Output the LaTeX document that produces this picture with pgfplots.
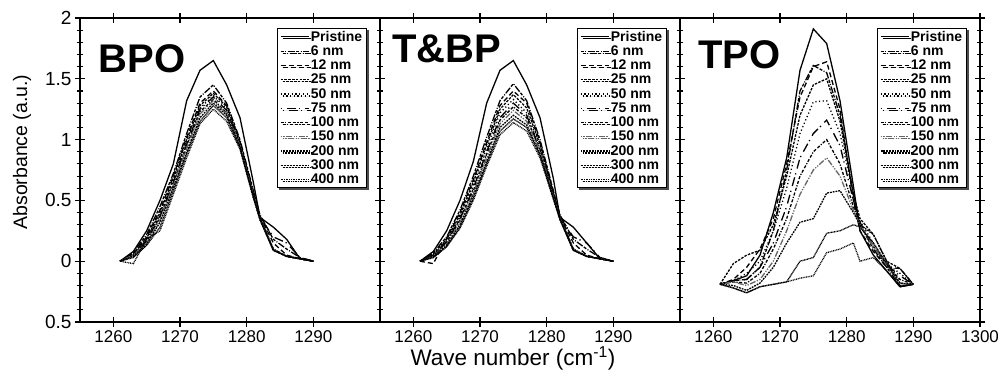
\documentclass[border=0pt]{standalone}
\usepackage{fontspec}
\setmainfont{Liberation Sans}
\usepackage{pgfplots}
\usepackage{pgfplotstable}
\pgfplotsset{compat=1.18}
\usetikzlibrary{shadows}

\pgfplotstableread{
wn p n6 n12 n25 n50 n75 n100 n150 n200 n300 n400
1261 0 0 0 0 0 0 0 0 0 0 0
1263 0.08 0.07 0.06 0.06 0.05 0.05 0.05 0.05 0.04 0.03 -0.02
1265 0.25 0.22 0.20 0.19 0.18 0.17 0.16 0.15 0.14 0.13 0.18
1267 0.50 0.45 0.42 0.40 0.38 0.37 0.36 0.34 0.32 0.28 0.25
1269 0.80 0.72 0.70 0.68 0.66 0.65 0.63 0.62 0.60 0.58 0.55
1271 1.32 1.05 1.02 1.00 0.98 0.96 0.95 0.93 0.90 0.88 0.85
1273 1.57 1.35 1.30 1.28 1.26 1.25 1.23 1.21 1.18 1.15 1.13
1275 1.65 1.45 1.40 1.38 1.36 1.35 1.33 1.32 1.30 1.28 1.25
1277 1.45 1.30 1.28 1.27 1.25 1.24 1.22 1.21 1.20 1.18 1.15
1279 1.18 1.00 0.98 0.98 0.97 0.96 0.95 0.95 0.94 0.93 0.92
1281 0.65 0.58 0.56 0.56 0.55 0.55 0.54 0.54 0.53 0.53 0.52
1282 0.36 0.38 0.37 0.37 0.36 0.36 0.35 0.35 0.35 0.34 0.34
1284 0.28 0.18 0.15 0.10 0.09 0.20 0.10 0.10 0.09 0.09 0.09
1286 0.18 0.10 0.05 0.04 0.04 0.15 0.04 0.04 0.04 0.04 0.04
1288 0.02 0.03 0.02 0.02 0.02 0.03 0.02 0.02 0.02 0.02 0.02
1290 0 0 0 0 0 0 0 0 0 0 0
}\bpo

\pgfplotstableread{
wn p n6 n12 n25 n50 n75 n100 n150 n200 n300 n400
1261 0 0 0 0 0 0 0 0 0 0 0
1263 0.08 0.07 -0.02 0.06 0.05 0.05 0.05 0.04 0.04 0.03 0.03
1265 0.25 0.20 0.19 0.18 0.17 0.16 0.15 0.14 0.13 0.12 0.12
1267 0.50 0.42 0.40 0.38 0.36 0.35 0.34 0.32 0.30 0.28 0.27
1269 0.82 0.70 0.67 0.65 0.62 0.60 0.58 0.56 0.54 0.52 0.50
1271 1.30 1.02 0.98 0.96 0.93 0.90 0.88 0.85 0.82 0.80 0.78
1273 1.57 1.32 1.28 1.25 1.22 1.18 1.16 1.13 1.10 1.07 1.04
1275 1.65 1.46 1.40 1.37 1.33 1.30 1.27 1.24 1.20 1.17 1.14
1277 1.45 1.32 1.30 1.26 1.22 1.20 1.18 1.15 1.12 1.10 1.07
1279 1.18 1.00 0.98 0.96 0.94 0.92 0.91 0.90 0.88 0.87 0.85
1281 0.68 0.58 0.57 0.56 0.55 0.55 0.54 0.53 0.52 0.52 0.51
1282 0.36 0.38 0.37 0.37 0.36 0.36 0.35 0.35 0.35 0.34 0.34
1284 0.28 0.18 0.15 0.10 0.09 0.20 0.10 0.10 0.09 0.09 0.09
1286 0.15 0.10 0.05 0.04 0.04 0.15 0.04 0.04 0.04 0.04 0.04
1288 0.02 0.03 0.02 0.02 0.02 0.03 0.02 0.02 0.02 0.02 0.02
1290 0 0 0 0 0 0 0 0 0 0 0
}\tbp

\pgfplotstableread{
wn p n6 n12 n25 n50 n75 n100 n150 n200 n300 n400
1261 -0.19 -0.19 -0.19 -0.19 -0.19 -0.19 -0.19 -0.19 -0.19 -0.19 -0.19
1263 -0.16 -0.16 -0.15 -0.02 -0.16 -0.16 -0.17 -0.17 -0.20 -0.22 -0.22
1265 -0.12 -0.15 -0.05 0.05 -0.10 -0.15 -0.18 -0.20 -0.24 -0.26 -0.26
1267 0.05 -0.05 0.10 0.09 0.00 -0.05 -0.10 -0.15 -0.18 -0.21 -0.21
1269 0.40 0.25 0.35 0.30 0.25 0.15 0.10 0.00 -0.05 -0.19 -0.19
1271 0.85 0.75 0.80 0.70 0.60 0.45 0.35 0.25 0.15 -0.17 -0.17
1273 1.57 1.40 1.35 1.20 1.05 0.85 0.70 0.55 0.32 0.00 -0.14
1275 1.91 1.61 1.60 1.45 1.31 1.05 0.90 0.75 0.35 0.03 -0.12
1277 1.79 1.55 1.64 1.50 1.32 1.16 1.00 0.85 0.56 0.23 0.07
1279 1.32 1.20 1.25 1.15 1.05 0.95 0.80 0.70 0.58 0.25 0.10
1281 0.62 0.55 0.50 0.55 0.55 0.50 0.45 0.42 0.40 0.30 0.15
1282 0.25 0.30 0.25 0.35 0.33 0.32 0.30 0.30 0.30 0.28 0.00
1284 0.05 0.10 0.08 0.22 0.15 0.12 0.12 0.12 0.22 0.15 0.03
1286 -0.08 -0.05 -0.05 0.00 -0.02 -0.03 -0.03 -0.03 0.00 -0.02 -0.08
1288 -0.21 -0.21 -0.06 -0.06 -0.10 -0.12 -0.15 -0.18 -0.18 -0.20 -0.21
1290 -0.19 -0.19 -0.19 -0.19 -0.19 -0.19 -0.19 -0.19 -0.19 -0.19 -0.19
}\tpo

\newcommand{\lf}{\fontsize{14bp}{17bp}\selectfont\bfseries}

\pgfplotsset{
  legend image code/.code={\draw[#1] (0bp,0bp) -- (28bp,0bp);},
  s0/.style={black, line width=1.3bp, solid},
  s1/.style={black, line width=1.3bp, dash pattern=on 3pt off 1.5pt on 1pt off 1.5pt on 7pt off 1.5pt},
  s2/.style={black, line width=1.3bp, dash pattern=on 5pt off 3pt},
  s3/.style={black, line width=1.3bp, dash pattern=on 2.5pt off 1.3pt},
  s4/.style={black, line width=1.3bp, dash pattern=on 1.2pt off 2.5pt},
  s5/.style={black, line width=1.3bp, dash pattern=on 1.2pt off 5pt on 9pt off 3pt},
  s6/.style={black, line width=1.3bp, dash pattern=on 3pt off 1.5pt on 1.2pt off 1.5pt on 3pt off 2pt},
  s7/.style={black!60, line width=1.3bp, dash pattern=on 1.2pt off 1.5pt on 1.2pt off 1.5pt on 6pt off 1.5pt},
  s8/.style={black, line width=1.3bp, dash pattern=on 1.8pt off 1pt},
  s9/.style={black, line width=1.3bp, dash pattern=on 0.9pt off 0.6pt},
  s10/.style={black, line width=1.3bp, dash pattern=on 0.9pt off 0.8pt},
  panel/.style={
    scale only axis, width=300bp, height=304bp,
    xmin=1255, xmax=1300, ymin=-0.5, ymax=2,
    axis line style={line width=1.5bp},
    ytick={-0.5,0,0.5,1,1.5,2},
    minor y tick num=4,
    ytick pos=both,
    xtick pos=both, xticklabel pos=lower,
    tick align=center,
    major tick length=10bp, minor tick length=6bp,
    every tick/.style={black, line width=1.1bp},
    xticklabel style={font=\fontsize{17bp}{17bp}\selectfont},
    yticklabel style={font=\fontsize{19bp}{19bp}\selectfont},
    legend cell align=left,
    legend style={at={(0.957,0.967)}, anchor=north east, draw=black, line width=0.8bp, fill=white,
      drop shadow={shadow xshift=2bp, shadow yshift=-2bp, fill=black!70, opacity=1},
      row sep=0bp, inner xsep=3bp, inner ysep=1bp,
      nodes={inner sep=1.5bp}},
    clip=false,
  },
}

\newcommand{\plotall}[1]{%
  \addplot[s0] table[x=wn,y=p]{#1};
  \addplot[s1] table[x=wn,y=n6]{#1};
  \addplot[s2] table[x=wn,y=n12]{#1};
  \addplot[s3] table[x=wn,y=n25]{#1};
  \addplot[s4] table[x=wn,y=n50]{#1};
  \addplot[s5] table[x=wn,y=n75]{#1};
  \addplot[s6] table[x=wn,y=n100]{#1};
  \addplot[s7] table[x=wn,y=n150]{#1};
  \addplot[s8] table[x=wn,y=n200]{#1};
  \addplot[s9] table[x=wn,y=n300]{#1};
  \addplot[s10] table[x=wn,y=n400]{#1};
  \legend{\lf Pristine,\lf 6 nm,\lf 12 nm,\lf 25 nm,\lf 50 nm,\lf 75 nm,\lf 100 nm,\lf 150 nm,\lf 200 nm,\lf 300 nm,\lf 400 nm}
}

\begin{document}
\begin{tikzpicture}
\begin{axis}[panel, at={(80bp,55bp)},
  xtick={1260,1270,1280,1290}, xticklabels={1260,1270,1280,1290},
  yticklabels={0.5,0,0.5,1,1.5,2}]
\plotall{\bpo}
\node[font=\fontsize{40bp}{40bp}\selectfont\bfseries, anchor=base west] at (rel axis cs:0.05,0.822) {BPO};
\end{axis}
\begin{axis}[panel, at={(380bp,55bp)},
  xtick={1260,1270,1280,1290}, xticklabels={1260,1270,1280,1290},
  yticklabels={}]
\plotall{\tbp}
\node[font=\fontsize{40bp}{40bp}\selectfont\bfseries, anchor=base west] at (rel axis cs:0.03,0.852) {T\&BP};
\end{axis}
\begin{axis}[panel, at={(680bp,55bp)},
  xtick={1260,1270,1280,1290,1300}, xticklabels={1260,1270,1280,1290,1300},
  yticklabels={}]
\plotall{\tpo}
\node[font=\fontsize{40bp}{40bp}\selectfont\bfseries, anchor=base west] at (rel axis cs:0.05,0.835) {TPO};
\end{axis}
\node[rotate=90, font=\fontsize{19.5bp}{19.5bp}\selectfont] at (22bp,225bp) {Absorbance (a.u.)};
\node[anchor=base, font=\fontsize{22.5bp}{22.5bp}\selectfont] at (513bp,12bp) {Wave number (cm\textsuperscript{-1})};
\pgfresetboundingbox
\path[use as bounding box] (0,0) rectangle (1004bp,377bp);
\end{tikzpicture}
\end{document}
